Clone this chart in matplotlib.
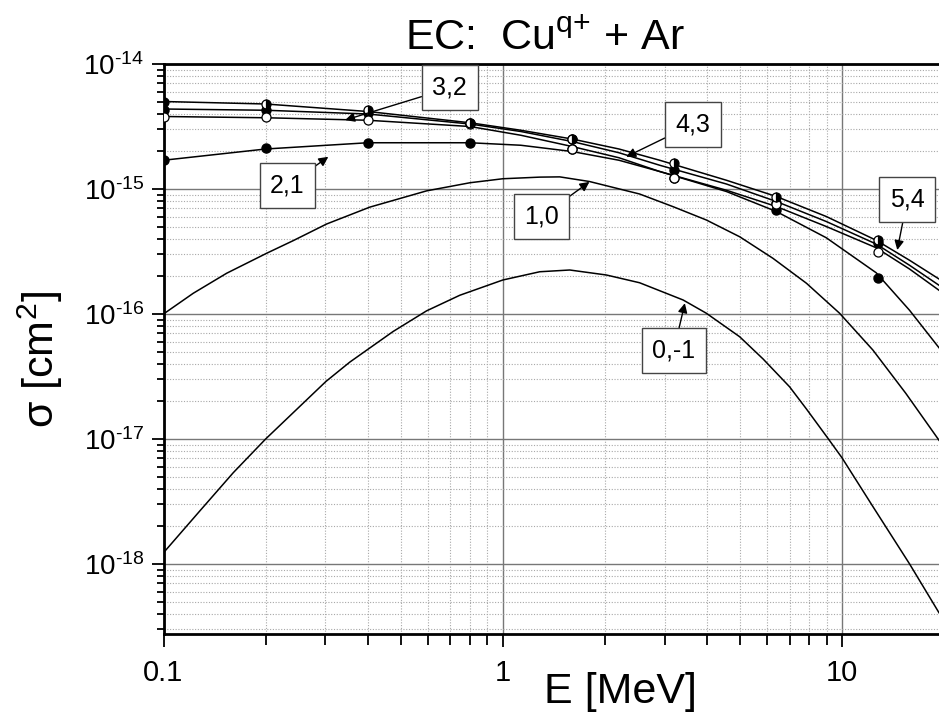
import numpy as np
import matplotlib.pyplot as plt
from matplotlib.ticker import LogLocator, FixedLocator, FuncFormatter, NullFormatter

plt.rcParams['font.family'] = ['Liberation Sans', 'DejaVu Sans']
plt.rcParams['mathtext.fontset'] = 'custom'
plt.rcParams['mathtext.rm'] = 'Liberation Sans'
plt.rcParams['mathtext.it'] = 'Liberation Sans:italic'
plt.rcParams['mathtext.default'] = 'regular'

# --- data (cross sections given as log10 of sigma [cm^2]) ---
# curve 0,-1
E_0m1 = [0.1, 0.128, 0.1605, 0.2, 0.301, 0.354, 0.475, 0.596, 0.747, 1.0, 1.285, 1.575, 2.02,
         2.53, 3.40, 3.98, 4.99, 5.85, 7.0, 7.85, 9.08, 9.99, 12.32, 15.81, 19.3]
lg_0m1 = [-17.91, -17.575, -17.27, -17.0, -16.54, -16.385, -16.14, -15.975, -15.85, -15.728,
          -15.662, -15.648, -15.688, -15.75, -15.888, -15.994, -16.182, -16.36, -16.582,
          -16.76, -16.994, -17.15, -17.54, -18.0, -18.39]

# curve 1,0
E_10 = [0.1, 0.1224, 0.1535, 0.2014, 0.2412, 0.3025, 0.4056, 0.596, 0.8, 1.0, 1.285, 1.472, 1.80,
        2.53, 3.18, 3.98, 4.99, 6.25, 7.85, 9.83, 12.32, 15.4, 19.3]
lg_10 = [-16.0, -15.834, -15.674, -15.514, -15.413, -15.28, -15.145, -15.015, -14.95, -14.918,
         -14.905, -14.903, -14.94, -15.04, -15.142, -15.248, -15.382, -15.554, -15.754, -15.994,
         -16.288, -16.634, -17.01]

# fitted lines for 2,1 3,2 4,3 5,4
E_fit = [0.1, 0.2, 0.4, 0.8, 1.13, 1.6, 2.2, 2.9, 4.56, 6.4, 8.98, 12.6, 15.8, 19.3]
lg_fit21 = [-14.77, -14.68, -14.63, -14.63, -14.65, -14.70, -14.77, -14.86, -15.02, -15.18,
            -15.39, -15.67, -15.97, -16.27]
lg_fit32 = [-14.30, -14.32, -14.38, -14.47, -14.53, -14.60, -14.68, -14.77, -14.93, -15.06,
            -15.22, -15.41, -15.57, -15.72]
lg_fit43 = [-14.36, -14.37, -14.40, -14.48, -14.54, -14.62, -14.71, -14.81, -14.96, -15.10,
            -15.26, -15.44, -15.61, -15.77]
lg_fit54 = [-14.42, -14.43, -14.45, -14.50, -14.57, -14.66, -14.75, -14.86, -15.01, -15.14,
            -15.30, -15.47, -15.64, -15.81]

# measured points
E_pts = [0.1, 0.2, 0.4, 0.8, 1.6, 3.2, 6.4, 12.8]
lg_pts21 = [-14.77, -14.67, -14.63, -14.63, -14.68, -14.91, -15.17, -15.71]
lg_pts32 = [-14.30, -14.32, -14.37, -14.47, -14.60, -14.79, -15.06, -15.41]
lg_pts43 = [-14.37, -14.37, -14.39, -14.47, -14.60, -14.85, -15.11, -15.43]
lg_pts54 = [-14.42, -14.42, -14.45, -14.48, -14.68, -14.91, -15.12, -15.50]

labels = ['3,2', '2,1', '4,3', '1,0', '5,4', '0,-1']
label_pos = [(0.698, 6.43e-15), (0.232, 1.06e-15), (3.64, 3.30e-15),
             (1.30, 6.0e-16), (15.57, 8.28e-16), (3.19, 5.08e-17)]
arrow_tip = [(0.343, 3.56e-15), (0.306, 1.81e-15), (2.31, 1.81e-15),
             (1.80, 1.14e-15), (14.54, 3.25e-16), (3.44, 1.22e-16)]

fig = plt.figure(figsize=(9.39, 7.14), dpi=100)
ax = fig.add_axes([163.5 / 939, 1 - 634 / 714, 1 - 163.5 / 939, (634 - 64) / 714])
ax.set_xscale('log')
ax.set_yscale('log')

def p(v):
    return 10 ** np.array(v)

ax.plot(E_0m1, p(lg_0m1), color='k', lw=1.1)
ax.plot(E_10, p(lg_10), color='k', lw=1.1)
for lg in (lg_fit21, lg_fit32, lg_fit43, lg_fit54):
    ax.plot(E_fit, p(lg), color='k', lw=1.1)

ms = 6.5
ax.plot(E_pts, p(lg_pts21), ls='none', marker='o', ms=ms, mfc='k', mec='k', zorder=4)
ax.plot(E_pts, p(lg_pts43), ls='none', marker='o', ms=ms, mfc='k', mec='k', zorder=4)
ax.plot(E_pts, p(lg_pts54), ls='none', marker='o', ms=ms, mfc='white', mec='k', mew=0.9, zorder=4)
ax.plot(E_pts, p(lg_pts32), ls='none', marker='o', ms=ms, fillstyle='right', mfc='k',
        mfcalt='white', mec='k', mew=0.9, zorder=5)

ax.set_xlim(0.1, 19.3)
ax.set_ylim(10 ** -18.56, 1e-14)

ax.xaxis.set_major_locator(FixedLocator([0.1, 1, 10]))
ax.xaxis.set_major_formatter(FuncFormatter(lambda v, pos: '%g' % v))
ax.xaxis.set_minor_locator(LogLocator(base=10, subs=np.arange(2, 10), numticks=20))
ax.xaxis.set_minor_formatter(NullFormatter())
ax.yaxis.set_major_locator(FixedLocator([1e-18, 1e-17, 1e-16, 1e-15, 1e-14]))
ax.yaxis.set_major_formatter(FuncFormatter(
    lambda v, pos: r'$10^{\text{-%d}}$' % round(-np.log10(v))))
ax.yaxis.set_minor_locator(LogLocator(base=10, subs=np.arange(2, 10), numticks=20))
ax.yaxis.set_minor_formatter(NullFormatter())

ax.grid(which='minor', color='#a8a8a8', lw=0.8, ls=(0, (1, 1.5)))
ax.grid(which='major', color='#777777', lw=1.0, ls='-')

ax.spines['right'].set_visible(False)
for s in ('left', 'bottom', 'top'):
    ax.spines[s].set_linewidth(2)

ax.tick_params(which='both', direction='out', top=False, right=False, width=1.3)
ax.tick_params(axis='y', which='major', length=9, pad=5, labelsize=20)
ax.tick_params(axis='y', which='minor', length=5)
ax.tick_params(axis='x', which='major', length=9, pad=9, labelsize=21)
ax.tick_params(axis='x', which='minor', length=8)

for txt, pos, tip in zip(labels, label_pos, arrow_tip):
    ax.annotate(txt, xy=tip, xytext=pos, ha='center', va='center', fontsize=18,
                bbox=dict(boxstyle='square,pad=0.42', fc='white', ec='#444444', lw=1),
                arrowprops=dict(arrowstyle='-|>', color='k', lw=1, mutation_scale=14,
                                shrinkA=0, shrinkB=0),
                zorder=6)

fig.text(545 / 939, 1 - 49 / 714, r'EC:  Cu$^{\text{q+}}$ + Ar', ha='center', va='baseline',
         fontsize=31)
fig.text(620 / 939, 1 - 703 / 714, 'E [MeV]', ha='center', va='baseline', fontsize=31)
fig.text(40 / 939, 1 - 360 / 714, r'σ [cm$^2$]', ha='center', va='center', rotation=90,
         fontsize=31)

fig.savefig('out.png', dpi=100)
